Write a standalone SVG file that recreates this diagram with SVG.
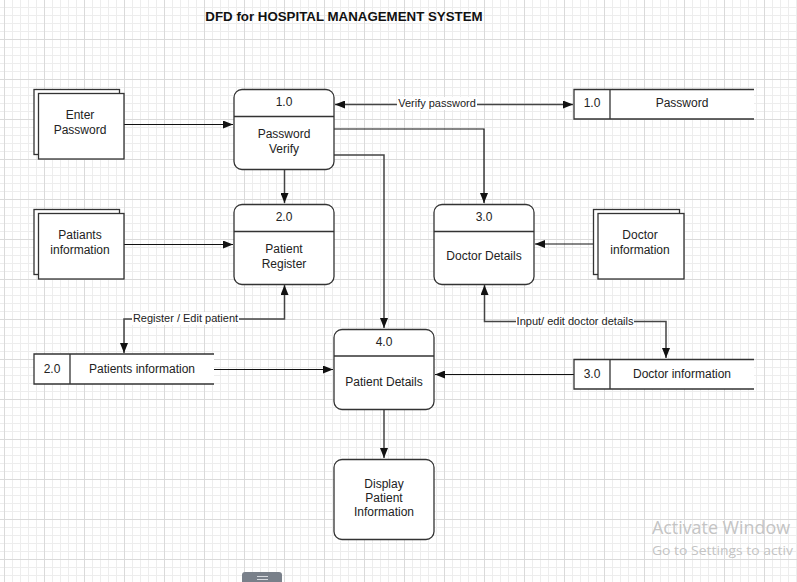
<svg xmlns="http://www.w3.org/2000/svg" width="797" height="582" viewBox="0 0 797 582">
<defs>
<pattern id="grid" x="4" y="-1" width="40" height="40" patternUnits="userSpaceOnUse">
<path d="M8.5 0V40M16.5 0V40M24.5 0V40M32.5 0V40M0 8.5H40M0 16.5H40M0 24.5H40M0 32.5H40" stroke="#ededed" stroke-width="1" fill="none"/>
<path d="M0.5 0V40M0 0.5H40" stroke="#dadada" stroke-width="1" fill="none"/>
</pattern>
<marker id="ah" viewBox="0 0 10 8" refX="10" refY="4" markerWidth="10" markerHeight="8" markerUnits="userSpaceOnUse" orient="auto-start-reverse">
<path d="M0 0L10 4L0 8z" fill="#111"/>
</marker>
<style>
.t{font-family:"Liberation Sans",Arial,sans-serif;font-size:12px;fill:#222;text-anchor:middle}
.l{font-family:"Liberation Sans",Arial,sans-serif;font-size:11px;fill:#222;text-anchor:middle}
.box{fill:#fff;stroke:#333;stroke-width:1.3}
.c{fill:none;stroke:#444;stroke-width:1.5}
.cb{fill:none;stroke:#111;stroke-width:1.2}
.lbg{fill:#fff}
.wm{font-family:"Open Sans","Noto Sans",sans-serif;fill:#c4c4c4}
</style>
</defs>
<rect width="797" height="582" fill="#fff"/>
<rect width="797" height="582" fill="url(#grid)"/>
<text x="344" y="21" style="font-family:'Liberation Sans',Arial,sans-serif;font-size:13.3px;font-weight:bold;fill:#111;text-anchor:middle">DFD for HOSPITAL MANAGEMENT SYSTEM</text>

<g id="connectors">
<path class="cb" d="M124 124.5H233" marker-end="url(#ah)"/>
<path class="c" d="M335 104.5H573" marker-start="url(#ah)" marker-end="url(#ah)"/>
<rect class="lbg" x="397" y="97" width="80" height="13"/>
<text class="l" x="437" y="107">Verify password</text>
<path class="cb" d="M334 129H484V203" marker-end="url(#ah)"/>
<path class="c" d="M334 155H384V328" marker-end="url(#ah)"/>
<path class="c" d="M284.5 170V203" marker-end="url(#ah)"/>
<path class="cb" d="M124 244.5H233" marker-end="url(#ah)"/>
<path class="c" d="M284.5 285V319H124V353" marker-start="url(#ah)" marker-end="url(#ah)"/>
<rect class="lbg" x="132" y="312" width="107" height="13"/>
<text class="l" x="185.5" y="322">Register / Edit patient</text>
<path class="cb" d="M214 369.5H333" marker-end="url(#ah)"/>
<path class="cb" d="M598 244H535" marker-end="url(#ah)"/>
<path class="c" d="M484.5 285V321.5H666V358" marker-start="url(#ah)" marker-end="url(#ah)"/>
<rect class="lbg" x="516" y="314" width="118" height="13"/>
<text class="l" x="575" y="324.5">Input/ edit doctor details</text>
<path class="cb" d="M574 374.5H435" marker-end="url(#ah)"/>
<path class="c" d="M384 410V458" marker-end="url(#ah)"/>
</g>

<g id="enter-password">
<rect class="box" x="34" y="89.5" width="85.5" height="65"/>
<rect class="box" x="38.5" y="93.5" width="85.5" height="65.5"/>
<text class="t" x="80" y="119">Enter</text>
<text class="t" x="80" y="134">Password</text>
</g>

<g id="p1">
<rect class="box" x="234" y="89.5" width="100" height="80" rx="8"/>
<path class="box" d="M234 116.5H334"/>
<text class="t" x="284" y="106">1.0</text>
<text class="t" x="284" y="138">Password</text>
<text class="t" x="284" y="153">Verify</text>
</g>

<g id="store-password">
<path class="box" d="M754 89.5H574V119H754"/>
<path class="box" d="M610 89.5V119"/>
<text class="t" x="592" y="107">1.0</text>
<text class="t" x="682" y="107">Password</text>
</g>

<g id="patiants-information">
<rect class="box" x="34" y="209.5" width="85.5" height="65"/>
<rect class="box" x="38.5" y="213.5" width="85.5" height="65.5"/>
<text class="t" x="80" y="239">Patiants</text>
<text class="t" x="80" y="254">information</text>
</g>

<g id="p2">
<rect class="box" x="234" y="204.5" width="100" height="80" rx="8"/>
<path class="box" d="M234 231.5H334"/>
<text class="t" x="284" y="221">2.0</text>
<text class="t" x="284" y="253">Patient</text>
<text class="t" x="284" y="268">Register</text>
</g>

<g id="p3">
<rect class="box" x="434" y="204.5" width="100" height="80" rx="8"/>
<path class="box" d="M434 231.5H534"/>
<text class="t" x="484" y="221">3.0</text>
<text class="t" x="484" y="260">Doctor Details</text>
</g>

<g id="doctor-information">
<rect class="box" x="593.5" y="209.5" width="86" height="65"/>
<rect class="box" x="598" y="213.5" width="86" height="65.5"/>
<text class="t" x="640" y="239">Doctor</text>
<text class="t" x="640" y="254">information</text>
</g>

<g id="store-patients">
<path class="box" d="M214 354H34V384H214"/>
<path class="box" d="M70 354V384"/>
<text class="t" x="52" y="373">2.0</text>
<text class="t" x="142" y="373">Patients information</text>
</g>

<g id="p4">
<rect class="box" x="334" y="329.5" width="100" height="80" rx="8"/>
<path class="box" d="M334 356H434"/>
<text class="t" x="384" y="346">4.0</text>
<text class="t" x="384" y="386">Patient Details</text>
</g>

<g id="store-doctor">
<path class="box" d="M754 359.5H574V389H754"/>
<path class="box" d="M610 359.5V389"/>
<text class="t" x="592" y="378">3.0</text>
<text class="t" x="682" y="378">Doctor information</text>
</g>

<g id="display">
<rect class="box" x="334" y="459.5" width="100" height="80" rx="8"/>
<text class="t" x="384" y="488">Display</text>
<text class="t" x="384" y="502">Patient</text>
<text class="t" x="384" y="516">Information</text>
</g>

<text class="wm" x="652" y="534" font-size="18.5" textLength="138" lengthAdjust="spacingAndGlyphs">Activate Window</text>
<text class="wm" x="652" y="555" font-size="13.5" textLength="141" lengthAdjust="spacingAndGlyphs">Go to Settings to activ</text>
<path d="M242 582V575Q242 572 245 572H279Q282 572 282 575V582Z" fill="#79808a"/>
<path d="M257 576.5H268M257 579.5H268" stroke="#d8dbe0" stroke-width="1"/>
</svg>
